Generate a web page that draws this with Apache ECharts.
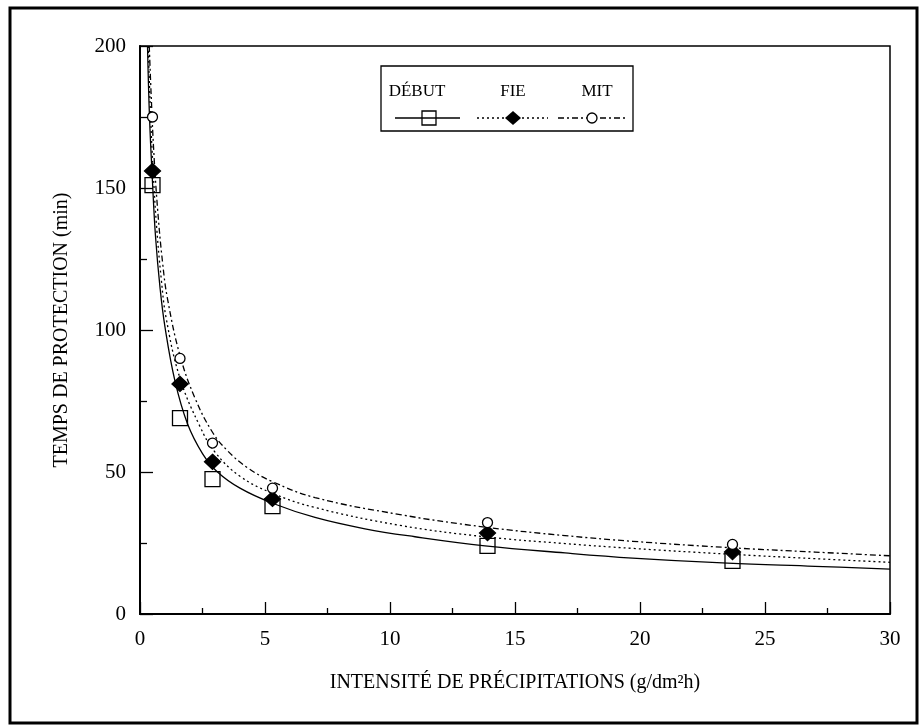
<!DOCTYPE html>
<html>
<head>
<meta charset="utf-8">
<title>Temps de protection</title>
<script src="https://cdn.jsdelivr.net/npm/echarts@6.0.0/dist/echarts.min.js"></script>
<style>
  html, body { margin: 0; padding: 0; background: #fff; }
  #main { width: 922px; height: 726px; }
</style>
</head>
<body>
<div id="main"></div>
<script>
// points mesurés
const xPoints = [0.5, 1.6, 2.9, 5.3, 13.9, 23.7]
const debutPoints = [151, 69, 47.5, 38, 24, 18.7]
const fiePoints = [156, 81, 53.6, 40.5, 28.5, 21.8]
const mitPoints = [175, 90, 60.2, 44.3, 32.2, 24.5]

// courbes d'ajustement
const debutCurveX = [0.3, 0.38, 0.5, 0.62, 0.8, 1.0, 1.4, 1.9, 2.5, 3.1, 4.0, 5.3, 7, 9, 11, 13.8, 17, 19.7, 23.5, 27, 30]
const debutCurveY = [200, 175, 152, 133, 115, 101, 82, 67, 56.5, 50, 44.3, 39, 34, 30, 27.2, 24, 21.5, 19.7, 17.9, 16.8, 15.8]
const fieCurveX = [0.33, 0.42, 0.52, 0.65, 0.85, 1.05, 1.6, 2.4, 3.0, 4.0, 5.3, 7, 10.4, 13.8, 17, 19.7, 23.5, 27, 30]
const fieCurveY = [200, 176, 157, 138, 118, 104, 83, 66, 57, 48.5, 42.5, 37.5, 31.2, 27.2, 24.8, 23.1, 21.1, 19.5, 18.2]
const mitCurveX = [0.37, 0.45, 0.55, 0.7, 0.9, 1.1, 1.6, 2.2, 2.9, 3.5, 4.3, 5.3, 7, 10.4, 13.8, 17, 19.7, 23.5, 27, 30]
const mitCurveY = [200, 182, 163, 143, 124, 111, 91, 76, 64, 57.5, 51.5, 46.6, 41, 35, 30.6, 27.6, 25.6, 23.4, 21.8, 20.5]

const xTicks = [0, 5, 10, 15, 20, 25, 30]
const yTicks = [0, 50, 100, 150, 200]

const font = 'Liberation Serif'

function zip(xs, ys) {
  return xs.map((x, i) => [x, ys[i]])
}

const curveLine = (name, xs, ys, type) => ({
  name: name,
  type: 'line',
  data: zip(xs, ys),
  showSymbol: false,
  smooth: 0.4,
  lineStyle: { color: '#000', width: 1.3, type: type },
  z: 2,
  silent: true
})

const markers = (name, ys, symbol, size, fill) => ({
  name: name,
  type: 'scatter',
  data: zip(xPoints, ys),
  symbol: symbol,
  symbolSize: size,
  itemStyle: { color: fill, borderColor: '#000', borderWidth: 1.3, opacity: 1 },
  z: 3
})

const myChart = echarts.init(document.getElementById('main'))
const option = {
  backgroundColor: '#fff',
  animation: false,
  grid: {
    left: 140,
    right: 32,
    top: 46,
    bottom: 112,
    show: true,
    borderColor: '#000',
    borderWidth: 1.5
  },
  xAxis: {
    type: 'value',
    min: xTicks[0],
    max: xTicks[xTicks.length - 1],
    interval: 5,
    name: 'INTENSITÉ DE PRÉCIPITATIONS (g/dm²h)',
    nameLocation: 'middle',
    nameGap: 59,
    nameTextStyle: { fontFamily: font, fontSize: 20, color: '#000' },
    axisLine: { lineStyle: { color: '#000', width: 2 } },
    axisTick: { inside: true, length: 12, lineStyle: { color: '#000', width: 1.3 } },
    minorTick: { show: true, splitNumber: 2, length: 6, lineStyle: { color: '#000', width: 1.3 } },
    axisLabel: { fontFamily: font, fontSize: 21, color: '#000', margin: 15 },
    splitLine: { show: false }
  },
  yAxis: {
    type: 'value',
    min: yTicks[0],
    max: yTicks[yTicks.length - 1],
    interval: 50,
    name: 'TEMPS DE PROTECTION (min)',
    nameLocation: 'middle',
    nameGap: 68,
    nameTextStyle: { fontFamily: font, fontSize: 20, color: '#000' },
    axisLine: { show: true, lineStyle: { color: '#000', width: 2 } },
    axisTick: { show: true, inside: true, length: 13, lineStyle: { color: '#000', width: 1.3 } },
    minorTick: { show: true, splitNumber: 2, length: 7, lineStyle: { color: '#000', width: 1.3 } },
    axisLabel: { fontFamily: font, fontSize: 21, color: '#000', margin: 14 },
    splitLine: { show: false }
  },
  series: [
    curveLine('DÉBUT', debutCurveX, debutCurveY, 'solid'),
    curveLine('FIE', fieCurveX, fieCurveY, [2, 3]),
    curveLine('MIT', mitCurveX, mitCurveY, [6, 3, 2, 3]),
    markers('DÉBUT', debutPoints, 'rect', 15, 'rgba(0,0,0,0)'),
    markers('FIE', fiePoints, 'diamond', [16, 15], '#000'),
    markers('MIT', mitPoints, 'circle', 10, '#fff')
  ],
  graphic: [
    // cadre extérieur
    {
      type: 'rect',
      shape: { x: 10, y: 8, width: 907, height: 715 },
      style: { fill: 'none', stroke: '#000', lineWidth: 3 },
      silent: true
    },
    // légende
    {
      type: 'rect',
      shape: { x: 381, y: 66, width: 252, height: 65 },
      style: { fill: '#fff', stroke: '#000', lineWidth: 1.3 },
      z: 10
    },
    { type: 'text', x: 417, y: 92, z: 11, style: { text: 'DÉBUT', font: '17px "Liberation Serif"', fill: '#000', align: 'center', verticalAlign: 'middle' } },
    { type: 'text', x: 513, y: 92, z: 11, style: { text: 'FIE', font: '17px "Liberation Serif"', fill: '#000', align: 'center', verticalAlign: 'middle' } },
    { type: 'text', x: 597, y: 92, z: 11, style: { text: 'MIT', font: '17px "Liberation Serif"', fill: '#000', align: 'center', verticalAlign: 'middle' } },
    { type: 'line', z: 11, shape: { x1: 395, y1: 118, x2: 460, y2: 118 }, style: { stroke: '#000', lineWidth: 1.3 } },
    { type: 'line', z: 11, shape: { x1: 477, y1: 118, x2: 548, y2: 118 }, style: { stroke: '#000', lineWidth: 1.3, lineDash: [2, 3] } },
    { type: 'line', z: 11, shape: { x1: 558, y1: 118, x2: 627, y2: 118 }, style: { stroke: '#000', lineWidth: 1.3, lineDash: [6, 3, 2, 3] } },
    { type: 'rect', z: 12, shape: { x: 422, y: 111, width: 14, height: 14 }, style: { fill: 'none', stroke: '#000', lineWidth: 1.3 } },
    { type: 'polygon', z: 12, shape: { points: [[513, 111], [521, 118], [513, 125], [505, 118]] }, style: { fill: '#000' } },
    { type: 'circle', z: 12, shape: { cx: 592, cy: 118, r: 5 }, style: { fill: '#fff', stroke: '#000', lineWidth: 1.3 } }
  ]
}
option && myChart.setOption(option)
</script>
</body>
</html>
